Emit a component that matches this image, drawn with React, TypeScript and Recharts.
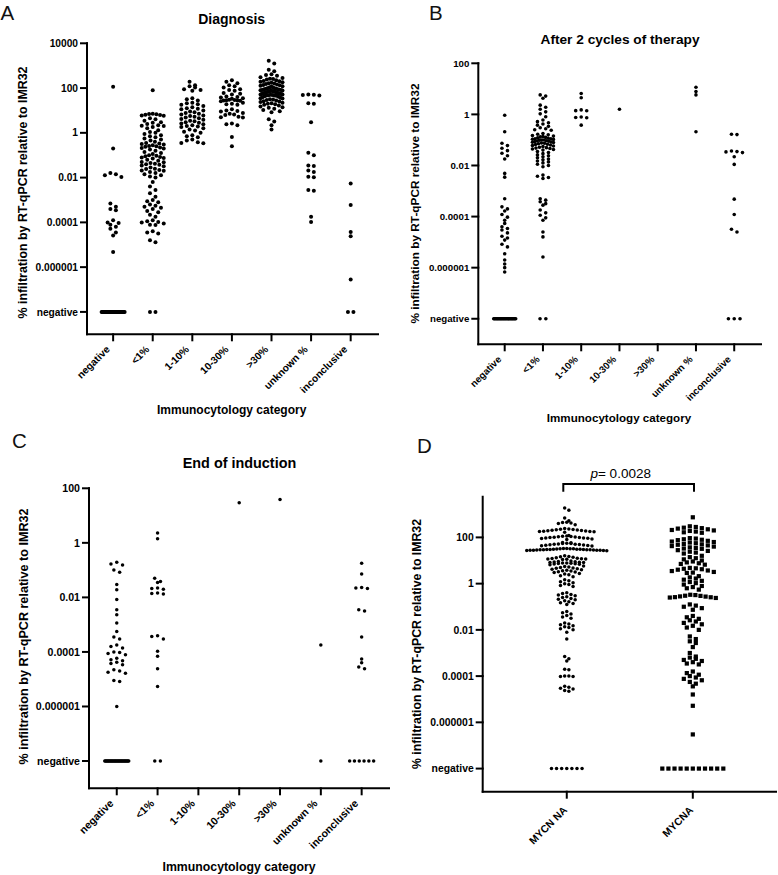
import React from 'react';
import { ScatterChart, Scatter, XAxis, YAxis } from 'recharts';

const FONT = '"Liberation Sans", Arial, Helvetica, sans-serif';

// ---------- categories & tick labels ----------
const immunoCategories = ['negative', '<1%', '1-10%', '10-30%', '>30%', 'unknown %', 'inconclusive'];
const mycnCategories = ['MYCN NA', 'MYCNA'];
const yTickValues = [-8, -6, -4, -2, 0, 2, 4];
const yTickLabels = ['negative', '0.000001', '0.0001', '0.01', '1', '100', '10000'];
const NEG_POS = -8; // axis position (log10) where RT-qPCR negative samples are drawn

// ---------- Panel A: Diagnosis (% infiltration) ----------
const diagNegIC = [115, 0.2, 0.016, 0.014, 0.0126, 0.0107, 0.00069, 0.0005, 0.0004, 0.00035, 0.000126, 0.0001, 0.000093, 0.000079, 0.000063, 0.000052, 0.000035, 0.000026, 0.0000048];
const diagLt1 = [79, 7.2, 6.9, 6.8, 6.5, 6.3, 6.0, 5.8, 4.5, 4.0, 3.5, 3.0, 2.8, 2.5, 2.2, 2.1, 2.0, 1.8, 1.6, 1.3, 1.1, 1.0, 0.89, 0.79, 0.71,
  0.63, 0.56, 0.5, 0.45, 0.4, 0.35, 0.33, 0.32, 0.3, 0.28, 0.26, 0.25, 0.24, 0.22, 0.21, 0.2, 0.18, 0.16, 0.14, 0.126, 0.112,
  0.1, 0.095, 0.089, 0.083, 0.079, 0.076, 0.071, 0.063, 0.056, 0.05, 0.048, 0.045, 0.042, 0.04, 0.038, 0.035, 0.032, 0.028,
  0.025, 0.024, 0.022, 0.021, 0.02, 0.018, 0.016, 0.014, 0.0126, 0.0112, 0.01, 0.0063, 0.004, 0.0028, 0.002, 0.0014, 0.001, 0.00089,
  0.00079, 0.00063, 0.00056, 0.0005, 0.00045, 0.0004, 0.00032, 0.00028, 0.00022, 0.00018, 0.000126, 0.000112, 0.000105, 0.0001,
  0.000089, 0.000079, 0.000076, 0.00004, 0.000035, 0.000032, 0.000016, 0.000013];
const diag1to10 = [190, 132, 120, 105, 89, 83, 76, 35, 32, 28, 22, 21, 19, 18, 16, 14, 12.6, 12, 11.2, 10, 8.9, 8.3, 7.6, 7.1, 6.6, 6.0,
  5.6, 5.2, 4.8, 4.5, 4.2, 3.8, 3.5, 3.3, 3.0, 2.8, 2.6, 2.4, 2.2, 2.0, 1.9, 1.8, 1.6, 1.4, 1.26, 1.12, 1.0, 0.79, 0.71, 0.63, 0.5, 0.45, 0.38, 0.35, 0.34];
const diag10to30 = [224, 190, 166, 132, 120, 105, 89, 83, 76, 60, 56, 52, 42, 40, 38, 35, 33, 30, 29.5, 28.8, 28, 27.5, 27, 26,
  22, 20, 19, 18, 11.2, 10, 9.5, 8.9, 7.6, 7.1, 6.6, 6.3, 5.2, 5.0, 4.8, 2.6, 2.4, 2.2, 0.66, 0.25];
const diagGt30 = [1660, 1260, 660, 560, 417, 380, 355, 302, 282, 263, 251, 240, 224, 209, 200, 190, 182, 174, 166, 158,
  151, 145, 138, 132, 126, 120, 115, 110, 105, 100, 98, 95, 93, 91, 89, 87, 85, 83, 81, 79,
  78, 76, 74, 72, 71, 69, 68, 66, 65, 63, 62, 60, 59, 58, 56, 55, 54, 52, 51, 50, 49, 48, 47, 46,
  45, 43, 41, 39, 37, 35, 34, 32, 31, 29.5, 28, 26, 25, 24, 22, 21, 20, 19, 18, 16.6, 15, 14, 13.2,
  12, 10.5, 9.1, 8.3, 4.0, 3.2, 2.2, 1.4];
const diagUnknown = [52, 50, 49, 46, 21, 20, 3.0, 0.13, 0.1, 0.035, 0.033, 0.021, 0.018, 0.011, 0.0105, 0.0028, 0.0026, 0.00018, 0.000105];
const diagInconcl = [0.0055, 0.0006, 0.000037, 0.000024, 0.00000028];
const diagNegCounts = [30, 2, 0, 0, 0, 0, 2];

// ---------- Panel B: After 2 cycles of therapy ----------
const cyc2NegIC = [0.93, 0.21, 0.074, 0.06, 0.047, 0.038, 0.03, 0.024, 0.018, 0.0049, 0.0035, 0.0005, 0.00024, 0.0002, 0.000166,
  0.00012, 0.000095, 0.000072, 0.000054, 0.00004, 0.000034, 0.00003, 0.000023, 0.000017, 0.0000145, 0.000012, 0.0000083, 0.0000065,
  0.0000035, 0.000002, 0.0000014, 0.000001, 0.00000068];
const cyc2Lt1 = [5.8, 5.2, 4.3, 2.3, 1.9, 1.6, 1.26, 1.05, 0.81, 0.6, 0.52, 0.47, 0.42, 0.38, 0.34, 0.3, 0.275, 0.25, 0.24,
  0.178, 0.166, 0.158, 0.148, 0.141, 0.135, 0.132, 0.126, 0.12, 0.117, 0.112, 0.11, 0.107, 0.105, 0.1, 0.1, 0.098, 0.093, 0.091,
  0.089, 0.087, 0.083, 0.081, 0.079, 0.076, 0.074, 0.071, 0.068, 0.066, 0.063, 0.06, 0.058, 0.055, 0.052, 0.05, 0.048, 0.046,
  0.044, 0.042, 0.04, 0.035, 0.032, 0.029, 0.026, 0.024, 0.022, 0.02, 0.018, 0.0166, 0.015, 0.0138, 0.0126, 0.0112, 0.01, 0.0089,
  0.0042, 0.0038, 0.0034, 0.0031, 0.0005, 0.00044, 0.00038, 0.00032, 0.00028, 0.00018, 0.00014, 0.000112, 0.000089, 0.000072,
  0.000025, 0.000016, 0.0000026];
const cyc2_1to10 = [6.6, 4.5, 1.5, 1.4, 1.38, 0.79, 0.76, 0.74, 0.38];
const cyc2_10to30 = [1.6];
const cyc2Gt30: number[] = [];
const cyc2Unknown = [11.5, 7.8, 5.8, 0.21];
const cyc2Inconcl = [0.166, 0.162, 0.037, 0.035, 0.034, 0.032, 0.022, 0.011, 0.00048, 0.00012, 0.000032, 0.000025];
const cyc2NegCounts = [25, 2, 0, 0, 0, 0, 3];

// ---------- Panel C: End of induction ----------
const eoiNegIC = [0.195, 0.166, 0.155, 0.1, 0.083, 0.03, 0.019, 0.0083, 0.0035, 0.0023, 0.00115, 0.00056, 0.00035, 0.0003,
  0.00018, 0.000158, 0.000138, 0.0001, 0.000095, 0.000087, 0.000079, 0.000059, 0.000052, 0.000048, 0.000042, 0.000038, 0.000034,
  0.000022, 0.00002, 0.000018, 0.0000166, 0.0000089, 0.0000083, 0.000001];
const eoiLt1 = [2.3, 1.4, 0.05, 0.038, 0.035, 0.022, 0.021, 0.02, 0.0145, 0.0138, 0.0132, 0.00039, 0.00037, 0.0003, 0.000105, 0.00007, 0.000024, 0.0000054];
const eoi1to10: number[] = [];
const eoi10to30 = [29.5];
const eoiGt30 = [39];
const eoiUnknown = [0.00018];
const eoiInconcl = [0.18, 0.072, 0.023, 0.022, 0.021, 0.0035, 0.0032, 0.00035, 0.000055, 0.00004, 0.000028, 0.000024];
const eoiNegCounts = [30, 2, 0, 0, 0, 1, 6];

// ---------- Panel D: MYCN status ----------
const mycnNA = [1860, 1480, 690, 525, 457, 437, 417, 398, 355,
  240, 229, 224, 219, 214, 209, 204, 200, 195, 190, 186, 182, 178, 174, 166,
  120, 115, 112, 110, 107, 105, 102, 100, 98, 95, 93, 91, 89, 85, 81,
  60, 58, 56, 55, 54, 52, 51, 50, 49, 48, 47, 46, 45, 44, 42,
  33, 33, 32.5, 32, 32, 31.5, 31, 31, 30.5, 30, 30, 30, 29.5, 29.5, 29, 29, 28.5, 28.5, 28, 28, 27.5, 27.5, 27, 27, 26.5,
  16, 15, 14.5, 13.8, 13.2, 12.6, 12.3, 12, 11.7, 11.5, 11.2, 11,
  9.5, 9.1, 8.9, 8.7, 8.5, 8.3, 8.1, 7.9, 7.8, 7.6, 7.4, 7.2, 7.1, 6.9, 6.6,
  5.8, 5.5, 5.2, 5.0, 4.8, 4.6, 4.4, 4.2, 4.0, 3.8, 3.6, 3.5, 3.3, 3.2, 3.0, 2.75, 2.6, 2.4, 2.2, 2.0,
  1.48, 1.32, 1.2, 1.1, 1.0, 0.91, 0.83, 0.76,
  0.4, 0.37, 0.34, 0.32, 0.3, 0.27, 0.25, 0.23, 0.21, 0.2, 0.18, 0.166, 0.15, 0.138, 0.126,
  0.063, 0.055, 0.048, 0.042, 0.036, 0.032, 0.02, 0.018, 0.0166, 0.015, 0.0138, 0.0126, 0.0112, 0.01,
  0.0079, 0.004, 0.0007, 0.00056, 0.00045, 0.0002, 0.00019, 0.0001, 0.0001, 0.000095, 0.000095,
  0.000036, 0.000033, 0.00003, 0.0000275, 0.000024, 0.000022];
const mycnAmp = [740, 302, 282, 263, 251, 240, 224, 209, 200, 190, 178, 166, 158,
  93, 89, 83, 79, 76, 71, 66, 63, 60, 56, 52, 50, 48, 45, 42, 40, 37, 35, 33, 32, 28, 26, 24, 22, 20,
  16, 14, 12.6, 11.2, 10, 9.1, 8.3, 7.6, 7.1, 6.6, 4.8, 4.6, 4.4, 4.2, 4.0, 3.7, 3.5, 3.2, 3.0, 2.9,
  2.1, 1.86, 1.66, 1.48, 1.32, 1.17, 1.05, 0.91, 0.79, 0.71, 0.63, 0.55,
  0.33, 0.32, 0.3, 0.295, 0.28, 0.275, 0.26, 0.257, 0.25, 0.24, 0.126, 0.112, 0.1, 0.087, 0.074,
  0.04, 0.035, 0.03, 0.026, 0.023, 0.02, 0.0174, 0.015, 0.0126, 0.01, 0.0052, 0.004, 0.0032, 0.0027, 0.0018, 0.001,
  0.0007, 0.00063, 0.00056, 0.0005, 0.00045, 0.0004, 0.00035, 0.00032,
  0.000158, 0.000135, 0.000115, 0.0001, 0.000087, 0.000076, 0.000066, 0.000056, 0.000047, 0.000036,
  0.000016, 0.0000052, 0.0000003];
const mycnNegCounts = [7, 11];
const pValueText = '= 0.0028';

// ---------- layout ----------
type Geo = { left: number; top: number; width: number; height: number; plot: { l: number; r: number; t: number; b: number }; xDomain: [number, number]; yDomain: [number, number]; yTicks: number[]; xTicks: number[] };
type SwarmCfg = { s: number; maxW: number; rowH: number; negS: number; negMaxW: number };

const XH = 60;
const geoA: Geo = { left: 0, top: 0, width: 390, height: 440, plot: { l: 87, r: 378, t: 43.3, b: 334.3 }, xDomain: [-0.66, 6.69], yDomain: [-9, 4], yTicks: yTickValues, xTicks: [0, 1, 2, 3, 4, 5, 6] };
const geoB: Geo = { left: 390, top: 0, width: 388, height: 440, plot: { l: 88.3, r: 371, t: 63.3, b: 344.3 }, xDomain: [-0.69, 6.7], yDomain: [-9, 2], yTicks: yTickValues.slice(0, 6), xTicks: [0, 1, 2, 3, 4, 5, 6] };
const geoC: Geo = { left: 0, top: 440, width: 390, height: 435, plot: { l: 89, r: 389, t: 48.3, b: 348.3 }, xDomain: [-0.68, 6.67], yDomain: [-9, 2], yTicks: yTickValues.slice(0, 6), xTicks: [0, 1, 2, 3, 4, 5, 6] };
const geoD: Geo = { left: 390, top: 440, width: 388, height: 435, plot: { l: 92.7, r: 386, t: 56.7, b: 351.7 }, xDomain: [-0.667, 1.66], yDomain: [-9, 3.76], yTicks: yTickValues.slice(0, 6), xTicks: [0, 1] };

const pxDec = (g: Geo) => (g.plot.b - g.plot.t) / (g.yDomain[1] - g.yDomain[0]);
const pxCat = (g: Geo) => (g.plot.r - g.plot.l) / (g.xDomain[1] - g.xDomain[0]);

function swarm(values: number[], negCount: number, cat: number, cfg: SwarmCfg, g: Geo) {
  const dpx = pxDec(g);
  const cpx = pxCat(g);
  const ly = values.map((v) => Math.log10(v)).sort((a, b) => b - a);
  const pts: { x: number; y: number }[] = [];
  const place = (row: number[], spacing: number, maxW: number) => {
    const n = row.length;
    const sp = n > 1 ? Math.min(spacing, maxW / (n - 1)) : 0;
    const slots = Array.from({ length: n }, (_, k) => (k - (n - 1) / 2) * sp).sort((a, b) => Math.abs(a) - Math.abs(b) || a - b);
    row.forEach((y, k) => pts.push({ x: cat + slots[k] / cpx, y }));
  };
  let i = 0;
  while (i < ly.length) {
    const start = ly[i];
    const row: number[] = [];
    while (i < ly.length && (start - ly[i]) * dpx < cfg.rowH) {
      row.push(ly[i]);
      i++;
    }
    place(row, cfg.s, cfg.maxW);
  }
  if (negCount > 0) place(Array(negCount).fill(NEG_POS), cfg.negS, cfg.negMaxW);
  return pts;
}

const build = (cols: number[][], negs: number[], cfg: SwarmCfg, g: Geo) => cols.flatMap((vals, c) => swarm(vals, negs[c], c, cfg, g));

const cfgA: SwarmCfg = { s: 5.5, maxW: 22, rowH: 4, negS: 5.5, negMaxW: 23 };
const cfgB: SwarmCfg = { s: 5.5, maxW: 21, rowH: 3.0, negS: 5.8, negMaxW: 22 };
const cfgC: SwarmCfg = { s: 5.8, maxW: 24, rowH: 3.4, negS: 5.6, negMaxW: 24 };
const cfgDNA: SwarmCfg = { s: 4.2, maxW: 80, rowH: 3.5, negS: 5.1, negMaxW: 70 };
const cfgDAmp: SwarmCfg = { s: 6.0, maxW: 46, rowH: 4.3, negS: 6.1, negMaxW: 70 };

const dataA = build([diagNegIC, diagLt1, diag1to10, diag10to30, diagGt30, diagUnknown, diagInconcl], diagNegCounts, cfgA, geoA);
const dataB = build([cyc2NegIC, cyc2Lt1, cyc2_1to10, cyc2_10to30, cyc2Gt30, cyc2Unknown, cyc2Inconcl], cyc2NegCounts, cfgB, geoB);
const dataC = build([eoiNegIC, eoiLt1, eoi1to10, eoi10to30, eoiGt30, eoiUnknown, eoiInconcl], eoiNegCounts, cfgC, geoC);
const dataDNA = swarm(mycnNA, mycnNegCounts[0], 0, cfgDNA, geoD);
const dataDAmp = swarm(mycnAmp, mycnNegCounts[1], 1, cfgDAmp, geoD);

const axisStyle = { stroke: '#000', strokeWidth: 2, strokeLinecap: 'square' as const };

const makeXTick = (labels: string[], fontSize: number, dx: number, dy: number) => (props: any) => {
  const { x, y, payload } = props;
  return (
    <g transform={`translate(${x + dx},${y + dy}) rotate(-45)`}>
      <text x={0} y={0} textAnchor="end" fontSize={fontSize} fontWeight={700} fontFamily={FONT} fill="#000">
        {labels[Math.round(payload.value)]}
      </text>
    </g>
  );
};

const circleShape = (r: number) => (p: any) => <circle cx={p.cx} cy={p.cy} r={r} fill="#000" />;
const squareShape = (s: number) => (p: any) => <rect x={p.cx - s / 2} y={p.cy - s / 2} width={s} height={s} fill="#000" />;

type SeriesDef = { data: { x: number; y: number }[]; shape: (p: any) => React.ReactElement };

function Panel({ g, series, labels, tickFont, xdx, xdy }: { g: Geo; series: SeriesDef[]; labels: string[]; tickFont: number; xdx: number; xdy: number }) {
  return (
    <div style={{ position: 'absolute', left: g.left, top: g.top, width: g.width, height: g.height }}>
      <ScatterChart
        width={g.width}
        height={g.height}
        margin={{ top: g.plot.t, right: g.width - g.plot.r, bottom: g.height - g.plot.b - XH, left: 0 }}
      >
        <XAxis
          type="number"
          dataKey="x"
          domain={g.xDomain}
          ticks={g.xTicks}
          interval={0}
          allowDataOverflow
          height={XH}
          tickSize={6}
          tickMargin={2}
          axisLine={axisStyle}
          tickLine={axisStyle}
          tick={makeXTick(labels, tickFont, xdx, xdy)}
        />
        <YAxis
          type="number"
          dataKey="y"
          domain={g.yDomain}
          ticks={g.yTicks}
          interval={0}
          allowDataOverflow
          width={g.plot.l}
          tickSize={6}
          tickMargin={3}
          axisLine={axisStyle}
          tickLine={axisStyle}
          tick={{ fill: '#000', fontSize: tickFont, fontWeight: 700, fontFamily: FONT }}
          tickFormatter={(v: number) => yTickLabels[yTickValues.indexOf(v)] ?? ''}
        />
        {series.map((s, i) => (
          <Scatter key={i} data={s.data} isAnimationActive={false} shape={s.shape} />
        ))}
      </ScatterChart>
    </div>
  );
}

const YLABEL = '% infiltration by RT-qPCR relative to IMR32';
const XLABEL = 'Immunocytology category';

export default function App() {
  const letter = { fontFamily: FONT, fontSize: 20.5, fill: '#111' };
  const bold = { fontFamily: FONT, fontWeight: 700, fill: '#000' } as const;
  return (
    <div style={{ position: 'absolute', left: 0, top: 0, width: 778, height: 875, background: '#fff', overflow: 'hidden' }}>
      <Panel g={geoA} series={[{ data: dataA, shape: circleShape(2.0) }]} labels={immunoCategories} tickFont={10.2} xdx={-2.7} xdy={7.7} />
      <Panel g={geoB} series={[{ data: dataB, shape: circleShape(1.8) }]} labels={immunoCategories} tickFont={9.7} xdx={-2.7} xdy={7.7} />
      <Panel g={geoC} series={[{ data: dataC, shape: circleShape(1.75) }]} labels={immunoCategories} tickFont={10.6} xdx={-2.7} xdy={7.7} />
      <Panel
        g={geoD}
        series={[
          { data: dataDNA, shape: circleShape(1.75) },
          { data: dataDAmp, shape: squareShape(4.2) },
        ]}
        labels={mycnCategories}
        tickFont={10.4}
        xdx={1}
        xdy={11}
      />
      <svg width={778} height={875} style={{ position: 'absolute', left: 0, top: 0, pointerEvents: 'none' }}>
        <text x={0.5} y={19.5} {...letter}>A</text>
        <text x={429} y={19.5} {...letter}>B</text>
        <text x={12} y={447.5} {...letter}>C</text>
        <text x={417} y={453} {...letter}>D</text>

        <text x={231.7} y={24} textAnchor="middle" fontSize={14} {...bold}>Diagnosis</text>
        <text x={620} y={44} textAnchor="middle" fontSize={13.7} {...bold}>After 2 cycles of therapy</text>
        <text x={239.5} y={468} textAnchor="middle" fontSize={14.4} {...bold}>End of induction</text>

        <text x={231.7} y={414} textAnchor="middle" fontSize={12} {...bold}>{XLABEL}</text>
        <text x={619} y={422} textAnchor="middle" fontSize={11.6} {...bold}>{XLABEL}</text>
        <text x={239} y={870.5} textAnchor="middle" fontSize={12.3} {...bold}>{XLABEL}</text>

        <text transform="translate(27.4,192.5) rotate(-90)" textAnchor="middle" fontSize={12.4} {...bold}>{YLABEL}</text>
        <text transform="translate(419.2,203.5) rotate(-90)" textAnchor="middle" fontSize={11.8} {...bold}>{YLABEL}</text>
        <text transform="translate(27.5,636.5) rotate(-90)" textAnchor="middle" fontSize={12.6} {...bold}>{YLABEL}</text>
        <text transform="translate(420.8,644) rotate(-90)" textAnchor="middle" fontSize={12.3} {...bold}>{YLABEL}</text>

        <text x={620.7} y={478} textAnchor="middle" fontSize={13.5} fontFamily={FONT} fill="#000">
          <tspan fontStyle="italic">p</tspan>
          {pValueText}
        </text>
        <path d="M563.3 491.7 V484 H694 V491.7" fill="none" stroke="#000" strokeWidth={2} />
      </svg>
    </div>
  );
}
